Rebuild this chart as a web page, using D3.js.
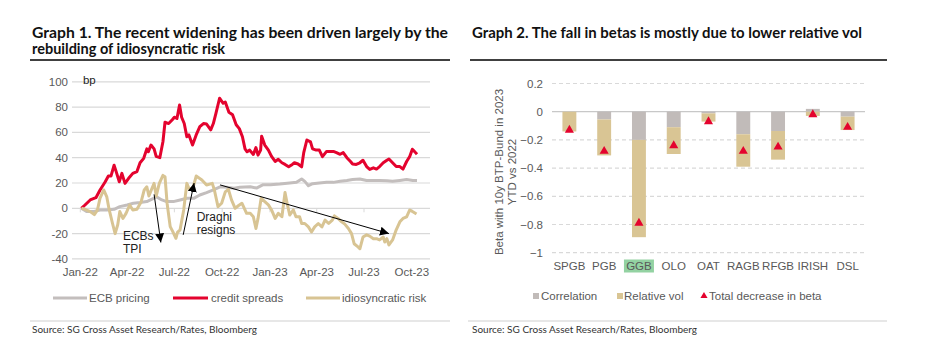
<!DOCTYPE html>
<html><head><meta charset="utf-8">
<script src="https://cdn.jsdelivr.net/npm/d3@7"></script>
<style>body{margin:0;background:#fff} svg{display:block}</style>
</head><body>
<svg id="c" width="929" height="356"></svg>
<script>
// ---------------- DATA: Graph 1 ----------------
const creditDates = ["2022-01-03","2022-01-10","2022-01-20","2022-01-31","2022-02-08","2022-02-18","2022-02-24","2022-03-01","2022-03-07","2022-03-11","2022-03-17","2022-03-22","2022-03-28","2022-04-04","2022-04-12","2022-04-20","2022-04-26","2022-05-03","2022-05-09","2022-05-12","2022-05-17","2022-05-23","2022-05-27","2022-06-03","2022-06-09","2022-06-13","2022-06-20","2022-06-27","2022-07-01","2022-07-06","2022-07-11","2022-07-15","2022-07-20","2022-07-25","2022-07-29","2022-08-05","2022-08-12","2022-08-19","2022-08-26","2022-09-01","2022-09-09","2022-09-14","2022-09-19","2022-09-26","2022-10-03","2022-10-07","2022-10-14","2022-10-21","2022-10-28","2022-11-03","2022-11-09","2022-11-14","2022-11-18","2022-11-23","2022-11-30","2022-12-05","2022-12-09","2022-12-14","2022-12-16","2022-12-22","2022-12-29","2023-01-04","2023-01-11","2023-01-17","2023-01-24","2023-01-30","2023-02-06","2023-02-13","2023-02-17","2023-02-24","2023-03-03","2023-03-07","2023-03-13","2023-03-20","2023-03-24","2023-03-31","2023-04-06","2023-04-12","2023-04-20","2023-04-26","2023-05-03","2023-05-09","2023-05-16","2023-05-22","2023-05-29","2023-06-05","2023-06-09","2023-06-16","2023-06-23","2023-06-29","2023-07-06","2023-07-12","2023-07-19","2023-07-25","2023-07-31","2023-08-07","2023-08-14","2023-08-18","2023-08-25","2023-09-01","2023-09-08","2023-09-14","2023-09-21","2023-09-27","2023-10-02","2023-10-06","2023-10-11"];
const creditValues = [0,2.6,6.6,8.4,14.5,21,25.5,25.5,34,29,21,27.6,19.7,23.7,27.6,29,36,39.5,47,44.7,50,47,41,40,52.6,68,67,70,72,71,81.6,72,67,56.6,58,50,58,64.5,67,66.6,62,67,75,87,83,84,76,74,66,63,56.6,47,44.7,46,42.6,48,42,46,57,50,46,41,37,38.7,36,34.7,32.8,34.7,36,35,32.8,44,54,52.5,47,46,46,40.8,45,45,45,44,42.7,44,40,37,35,34.7,36,38,33,30.7,32,31,33,36,38,39,36,33,33,31,37,41,46.7,45,42.7];

const idioDates = ["2022-01-03","2022-01-10","2022-01-20","2022-01-28","2022-02-03","2022-02-08","2022-02-15","2022-02-21","2022-02-25","2022-03-04","2022-03-09","2022-03-14","2022-03-18","2022-03-24","2022-03-30","2022-04-06","2022-04-12","2022-04-20","2022-04-28","2022-05-04","2022-05-09","2022-05-13","2022-05-19","2022-05-23","2022-05-27","2022-06-02","2022-06-09","2022-06-13","2022-06-17","2022-06-23","2022-06-28","2022-07-04","2022-07-07","2022-07-12","2022-07-19","2022-07-25","2022-07-29","2022-08-05","2022-08-12","2022-08-23","2022-09-01","2022-09-12","2022-09-16","2022-09-23","2022-09-30","2022-10-07","2022-10-13","2022-10-19","2022-10-26","2022-11-01","2022-11-08","2022-11-17","2022-11-24","2022-11-30","2022-12-05","2022-12-09","2022-12-15","2022-12-22","2022-12-29","2023-01-04","2023-01-11","2023-01-17","2023-01-24","2023-01-30","2023-02-03","2023-02-08","2023-02-15","2023-02-20","2023-02-27","2023-03-03","2023-03-09","2023-03-16","2023-03-22","2023-03-28","2023-04-04","2023-04-11","2023-04-17","2023-04-24","2023-05-01","2023-05-05","2023-05-12","2023-05-19","2023-05-25","2023-06-01","2023-06-07","2023-06-12","2023-06-20","2023-06-23","2023-06-29","2023-07-06","2023-07-12","2023-07-19","2023-07-25","2023-07-31","2023-08-07","2023-08-10","2023-08-14","2023-08-18","2023-08-25","2023-09-01","2023-09-08","2023-09-14","2023-09-21","2023-09-27","2023-10-03","2023-10-10"];
const idioValues = [0,-0.8,-2.6,-5,-1.3,8,14.5,9,0,-12,-20,-13,-2.6,-8,-4,2.6,-1.3,-0.8,5,14.5,17,9.7,15.8,19.7,9.7,19.7,26,25,4,-14.5,-18.4,-23.7,-19,-17,-1.3,19.7,15.8,15,25.5,22.4,18.4,19.7,14.5,1.3,4,13,15,6.6,0,2,4,-4,-4,-6.7,-16,-8,8,5.3,2.7,-1.3,-8,-4,-6.7,12.5,4,-5.3,-1.3,-6.7,-6.7,-12,-12,-14.7,-18.7,-14.7,-12,-14.7,-9.3,-12,-9.3,-6,-8,-10.7,-12.5,-16,-20,-28,-30.7,-32,-22.7,-21,-22,-24,-24,-25,-22.7,-26.7,-24,-29,-25,-17,-10.7,-8,-6.7,-1.3,-2.7,-4.5];

const ecbDates = ["2022-01-03","2022-01-13","2022-01-26","2022-02-08","2022-02-21","2022-03-07","2022-03-18","2022-04-01","2022-04-13","2022-04-26","2022-05-09","2022-05-23","2022-05-27","2022-06-07","2022-06-16","2022-06-29","2022-07-12","2022-07-25","2022-08-08","2022-08-19","2022-09-01","2022-09-14","2022-09-27","2022-10-10","2022-10-24","2022-11-04","2022-11-24","2022-12-06","2022-12-19","2023-01-02","2023-01-20","2023-02-08","2023-02-21","2023-03-03","2023-03-09","2023-03-16","2023-03-24","2023-04-06","2023-04-20","2023-05-03","2023-05-16","2023-05-29","2023-06-09","2023-06-23","2023-07-06","2023-07-19","2023-07-31","2023-08-14","2023-08-25","2023-09-08","2023-09-21","2023-10-03","2023-10-11"];
const ecbValues = [0,-2.6,-2.6,-1.3,-1.3,-0.8,1.3,2.6,4,4.5,5.3,8,9.2,6.6,5.3,5.3,6.6,8,8,10.5,12.4,14.5,17,16.6,15.8,16.6,17,16,18.7,18.7,19.2,20,20.5,23.2,21.3,17.9,19.5,20,20.5,20.5,21.3,22,22.7,23.2,22,22,22,21.8,21.3,22,22.7,22,21.9];

const leftYTicks = [100,80,60,40,20,0,-20,-40];
const leftXTickDates = ["2022-01-01","2022-04-01","2022-07-01","2022-10-01","2023-01-01","2023-04-01","2023-07-01","2023-10-01"];
const leftSeriesNames = ["ECB pricing","credit spreads","idiosyncratic risk"];

// annotations (in data space)
const arrowFromDates = ["2022-05-23","2022-07-18","2022-09-27"];
const arrowFromValues = [11,-21,18.5];
const arrowToDates = ["2022-06-05","2022-08-08","2023-08-18"];
const arrowToValues = [-27,20,-20];

// ---------------- DATA: Graph 2 ----------------
const countries = ["SPGB","PGB","GGB","OLO","OAT","RAGB","RFGB","IRISH","DSL"];
const correlation = [0,-0.055,-0.2,-0.11,-0.012,-0.16,-0.137,0.02,-0.035];
const relativeVol = [-0.14,-0.255,-0.69,-0.19,-0.058,-0.23,-0.203,-0.03,-0.095];
const totalDecrease = [-0.13,-0.28,-0.79,-0.24,-0.07,-0.28,-0.25,-0.02,-0.11];
const rightYTicks = [0.2,0,-0.2,-0.4,-0.6,-0.8,-1];
const rightSeriesNames = ["Correlation","Relative vol","Total decrease in beta"];

// ---------------- DRAW ----------------
const parse = d3.timeParse("%Y-%m-%d");
const svg = d3.select("#c");
const FONT = "'Liberation Sans', Arial, sans-serif";
const TFONT = "Lato, 'Noto Sans', sans-serif";
const TXT = "#595959";
const GRID = "#d9d9d9";
const cRed = "#e4032e", cTan = "#d8c493", cGray = "#c3bebd";
const cCorr = "#c1bbb9", cVol = "#d9c594", cTri = "#e4032e";

// Titles
function title(x, y, lines, width) {
  lines.forEach((t, i) => {
    const el = svg.append("text").attr("x", x).attr("y", y + i * 16)
      .attr("font-family", TFONT).attr("font-weight", 700).attr("font-size", 14.5)
      .attr("fill", "#111").text(t);
    if (i === 0 && width) el.attr("textLength", width).attr("lengthAdjust", "spacingAndGlyphs");
  });
}
title(32, 38, ["Graph 1. The recent widening has been driven largely by the", "rebuilding of idiosyncratic risk"], 416);
title(472, 38, ["Graph 2. The fall in betas is mostly due to lower relative vol"], 390);
svg.append("line").attr("x1", 30).attr("x2", 450).attr("y1", 60).attr("y2", 60).attr("stroke", "#000").attr("stroke-width", 1.6);
svg.append("line").attr("x1", 470).attr("x2", 887).attr("y1", 60).attr("y2", 60).attr("stroke", "#000").attr("stroke-width", 1.6);

// Sources
[[30, 450, 32], [468, 887, 472]].forEach(([a, b, tx]) => {
  svg.append("line").attr("x1", a).attr("x2", b).attr("y1", 321).attr("y2", 321).attr("stroke", "#d0d0d0").attr("stroke-width", 1.2);
  svg.append("text").attr("x", tx).attr("y", 333).attr("font-family", TFONT).attr("font-size", 9)
    .attr("fill", "#333").attr("textLength", 225).attr("lengthAdjust", "spacingAndGlyphs")
    .text("Source: SG Cross Asset Research/Rates, Bloomberg");
});

// ---------- Left chart ----------
const x = d3.scaleTime().domain([new Date(2021, 11, 16), new Date(2023, 10, 5)]).range([72, 430]);
const y = d3.scaleLinear().domain([-40, 100]).range([258.9, 81.8]);
const gL = svg.append("g");
gL.selectAll("line.grid").data(leftYTicks).join("line").attr("class", "grid")
  .attr("x1", x.range()[0]).attr("x2", x.range()[1]).attr("y1", d => y(d)).attr("y2", d => y(d))
  .attr("stroke", GRID).attr("stroke-width", 1.2);
gL.selectAll("text.yt").data(leftYTicks).join("text").attr("class", "yt")
  .attr("x", 68).attr("y", d => y(d)).attr("dy", "0.35em").attr("text-anchor", "end")
  .attr("font-family", FONT).attr("font-size", 11.5).attr("fill", TXT).text(d => d);
const xt = leftXTickDates.map(parse);
gL.selectAll("line.xtk").data(xt).join("line").attr("class", "xtk")
  .attr("x1", d => x(d)).attr("x2", d => x(d)).attr("y1", y(0)).attr("y2", y(0) + 4)
  .attr("stroke", GRID).attr("stroke-width", 1);
gL.selectAll("text.xt").data(xt).join("text").attr("class", "xt")
  .attr("x", d => x(d)).attr("y", 276).attr("text-anchor", "middle")
  .attr("font-family", FONT).attr("font-size", 11.5).attr("fill", TXT).text(d3.timeFormat("%b-%y"));
gL.append("text").attr("x", x(parse("2022-01-06"))).attr("y", y(98.3))
  .attr("font-family", FONT).attr("font-size", 11.5).attr("fill", "#222").text("bp");

const line = d3.line().x(d => x(d[0])).y(d => y(d[1])).curve(d3.curveLinear);
const series = [
  [ecbDates, ecbValues, cGray],
  [creditDates, creditValues, cRed],
  [idioDates, idioValues, cTan]
];
series.forEach(([ds, vs, col]) => {
  gL.append("path").datum(ds.map((d, i) => [parse(d), vs[i]]))
    .attr("d", line).attr("fill", "none").attr("stroke", col).attr("stroke-width", 3)
    .attr("stroke-linejoin", "round");
});

// arrows
const defs = svg.append("defs");
defs.append("marker").attr("id", "ah").attr("viewBox", "0 0 10 10").attr("refX", 10).attr("refY", 5)
  .attr("markerWidth", 9).attr("markerHeight", 9).attr("markerUnits", "userSpaceOnUse").attr("orient", "auto")
  .append("path").attr("d", "M0,0 L10,5 L0,10 z").attr("fill", "#000");
arrowFromDates.forEach((d, i) => {
  gL.append("line").attr("x1", x(parse(d))).attr("y1", y(arrowFromValues[i]))
    .attr("x2", x(parse(arrowToDates[i]))).attr("y2", y(arrowToValues[i]))
    .attr("stroke", "#000").attr("stroke-width", 1).attr("marker-end", "url(#ah)");
});
function note(dateStr, val, lines) {
  const t = gL.append("text").attr("x", x(parse(dateStr))).attr("y", y(val))
    .attr("font-family", FONT).attr("font-size", 12).attr("fill", "#222");
  lines.forEach((s, i) => t.append("tspan").attr("x", x(parse(dateStr))).attr("dy", i ? "1.15em" : 0).text(s));
}
note("2022-03-24", -24.8, ["ECBs", "TPI"]);
note("2022-08-13", -9.8, ["Draghi", "resigns"]);

// left legend
const legL = [[53, 87, 89], [173, 208, 211], [306, 340, 342]];
[cGray, cRed, cTan].forEach((c, i) => {
  const [a, b, t] = legL[i];
  svg.append("line").attr("x1", a).attr("x2", b).attr("y1", 298).attr("y2", 298).attr("stroke", c).attr("stroke-width", 3);
  svg.append("text").attr("x", t).attr("y", 298).attr("dy", "0.35em").attr("font-family", FONT)
    .attr("font-size", 11.5).attr("fill", TXT).text(leftSeriesNames[i]);
});

// ---------- Right chart ----------
const xb = d3.scaleBand().domain(countries).range([552, 865]).paddingInner(0.6).paddingOuter(0.3);
const yb = d3.scaleLinear().domain([-1, 0.2]).range([252.7, 83.5]);
const gR = svg.append("g");
gR.selectAll("line.grid").data(rightYTicks).join("line").attr("class", "grid")
  .attr("x1", 552).attr("x2", 865).attr("y1", d => yb(d)).attr("y2", d => yb(d))
  .attr("stroke", d => d === 0 ? "#c8c8c8" : GRID).attr("stroke-width", 1.2)
  .attr("stroke-dasharray", d => d === 0 ? null : "4,3");
gR.selectAll("text.yt").data(rightYTicks).join("text").attr("class", "yt")
  .attr("x", 543).attr("y", d => yb(d)).attr("dy", "0.35em").attr("text-anchor", "end")
  .attr("font-family", FONT).attr("font-size", 11.5).attr("fill", TXT).text(d => d3.format("")(d));

const rows = countries.map((c, i) => ({ c, corr: correlation[i], vol: relativeVol[i] }));
const stack = d3.stack().keys(["corr", "vol"]).offset(d3.stackOffsetDiverging)(rows);
const cols = [cCorr, cVol];
stack.forEach((layer, li) => {
  gR.selectAll("rect.l" + li).data(layer).join("rect").attr("class", "l" + li)
    .attr("x", d => xb(d.data.c)).attr("width", xb.bandwidth())
    .attr("y", d => yb(Math.max(d[0], d[1]))).attr("height", d => Math.abs(yb(d[0]) - yb(d[1])))
    .attr("fill", cols[li]);
});
const tri = d3.symbol(d3.symbolTriangle).size(36);
gR.selectAll("path.tri").data(countries).join("path").attr("class", "tri")
  .attr("transform", (c, i) => `translate(${xb(c) + xb.bandwidth() / 2},${yb(totalDecrease[i])})`)
  .attr("d", tri).attr("fill", cTri);

// GGB highlight
const hi = "GGB";
gR.append("rect").attr("x", xb(hi) + xb.bandwidth() / 2 - 15).attr("y", 259.5).attr("width", 30).attr("height", 13)
  .attr("fill", "#93d2a2");
gR.selectAll("text.xt").data(countries).join("text").attr("class", "xt")
  .attr("x", c => xb(c) + xb.bandwidth() / 2).attr("y", 270).attr("text-anchor", "middle")
  .attr("font-family", FONT).attr("font-size", 11.5).attr("fill", TXT).text(c => c);

// y axis title
const yt = gR.append("text").attr("transform", "translate(503,172) rotate(-90)").attr("text-anchor", "middle")
  .attr("font-family", FONT).attr("font-size", 11.5).attr("fill", TXT);
yt.append("tspan").attr("x", 0).attr("dy", 0).text("Beta with 10y BTP-Bund in 2023");
yt.append("tspan").attr("x", 0).attr("dy", "1.15em").text("YTD vs 2022");

// right legend
const ly = 296;
svg.append("rect").attr("x", 533).attr("y", ly - 3).attr("width", 6).attr("height", 6).attr("fill", cCorr);
svg.append("text").attr("x", 541).attr("y", ly).attr("dy", "0.35em").attr("font-family", FONT).attr("font-size", 11.5).attr("fill", TXT).text(rightSeriesNames[0]);
svg.append("rect").attr("x", 617).attr("y", ly - 3).attr("width", 6).attr("height", 6).attr("fill", cVol);
svg.append("text").attr("x", 624).attr("y", ly).attr("dy", "0.35em").attr("font-family", FONT).attr("font-size", 11.5).attr("fill", TXT).text(rightSeriesNames[1]);
svg.append("path").attr("transform", `translate(704,${ly})`).attr("d", d3.symbol(d3.symbolTriangle).size(22)).attr("fill", cTri);
svg.append("text").attr("x", 709).attr("y", ly).attr("dy", "0.35em").attr("font-family", FONT).attr("font-size", 11.5).attr("fill", TXT).text(rightSeriesNames[2]);
</script></body></html>
